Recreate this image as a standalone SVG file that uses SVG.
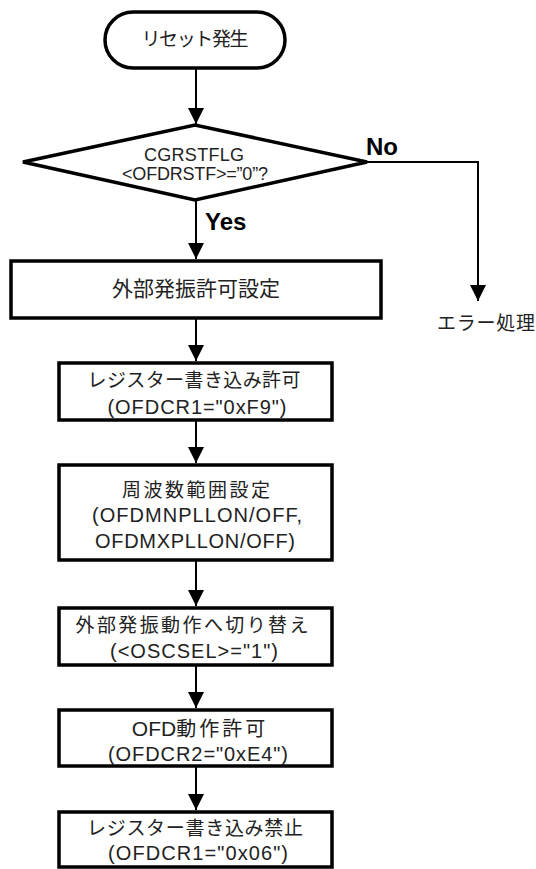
<svg xmlns="http://www.w3.org/2000/svg" width="536" height="869" viewBox="0 0 536 869">
<style>
.shape{fill:#fff;stroke:#000;stroke-width:3.5}
.conn{fill:none;stroke:#000;stroke-width:2}
.t{font-family:"Liberation Sans","Noto Sans CJK JP",Arial,sans-serif;font-size:20px;fill:#222;text-anchor:middle}
.j{font-family:"Noto Sans CJK JP","Liberation Sans",sans-serif;font-size:19px;fill:#222;text-anchor:middle}
.b{font-family:"Liberation Sans",Arial,sans-serif;font-size:24px;font-weight:bold;fill:#000}
</style>
<defs>
<marker id="ah" markerWidth="16" markerHeight="16" refX="16" refY="8" orient="auto" markerUnits="userSpaceOnUse" viewBox="0 0 16 16">
<path d="M0,0 L16,8 L0,16 Z" fill="#000"/>
</marker>
</defs>
<g id="connectors">
<path class="conn" d="M196,68 V124" marker-end="url(#ah)"/>
<path class="conn" d="M196,200 V259" marker-end="url(#ah)"/>
<path class="conn" d="M367,162 H478 V301" marker-end="url(#ah)"/>
<path class="conn" d="M196,318 V361" marker-end="url(#ah)"/>
<path class="conn" d="M196,420 V463" marker-end="url(#ah)"/>
<path class="conn" d="M196,560 V606" marker-end="url(#ah)"/>
<path class="conn" d="M196,665 V708" marker-end="url(#ah)"/>
<path class="conn" d="M196,766 V810" marker-end="url(#ah)"/>
<text class="b" x="366" y="155">No</text>
<text class="b" x="205" y="230">Yes</text>
</g>
<g id="start">
<rect class="shape" x="105" y="12" width="180" height="56" rx="28" ry="28"/>
<text class="j" x="195" y="46" textLength="107">リセット発生</text>
</g>
<g id="decision">
<polygon class="shape" points="23,162 195,125 367,162 195,200"/>
<text class="t" x="194" y="161" style="font-size:18px" textLength="100">CGRSTFLG</text>
<text class="t" x="195" y="180" style="font-size:18px" textLength="146">&lt;OFDRSTF&gt;=”0”?</text>
</g>
<g id="error">
<text class="j" x="486" y="330" textLength="98">エラー処理</text>
</g>
<g id="box1">
<rect class="shape" x="11" y="261" width="370" height="57"/>
<text class="j" x="196" y="296" style="font-size:21px" textLength="168">外部発振許可設定</text>
</g>
<g id="box2">
<rect class="shape" x="59" y="363" width="273" height="57"/>
<text class="j" x="194" y="387" textLength="213">レジスター書き込み許可</text>
<text class="t" x="197" y="414" textLength="179">(OFDCR1="0xF9")</text>
</g>
<g id="box3">
<rect class="shape" x="59" y="465" width="273" height="95"/>
<text class="j" x="196" y="497" textLength="148">周波数範囲設定</text>
<text class="t" x="197" y="522" textLength="210">(OFDMNPLLON/OFF,</text>
<text class="t" x="195" y="548" textLength="200">OFDMXPLLON/OFF)</text>
</g>
<g id="box4">
<rect class="shape" x="59" y="608" width="273" height="57"/>
<text class="j" x="192" y="632" textLength="233">外部発振動作へ切り替え</text>
<text class="t" x="194" y="658" textLength="168">(&lt;OSCSEL&gt;="1")</text>
</g>
<g id="box5">
<rect class="shape" x="59" y="710" width="273" height="56"/>
<text class="j" x="200" y="736"><tspan font-family="Liberation Sans, sans-serif" font-size="21">OFD</tspan><tspan font-size="20" letter-spacing="3">動作許可</tspan></text>
<text class="t" x="198" y="761" textLength="180">(OFDCR2="0xE4")</text>
</g>
<g id="box6">
<rect class="shape" x="59" y="812" width="273" height="55"/>
<text class="j" x="195" y="835" textLength="216">レジスター書き込み禁止</text>
<text class="t" x="198" y="860" textLength="180">(OFDCR1="0x06")</text>
</g>
</svg>
